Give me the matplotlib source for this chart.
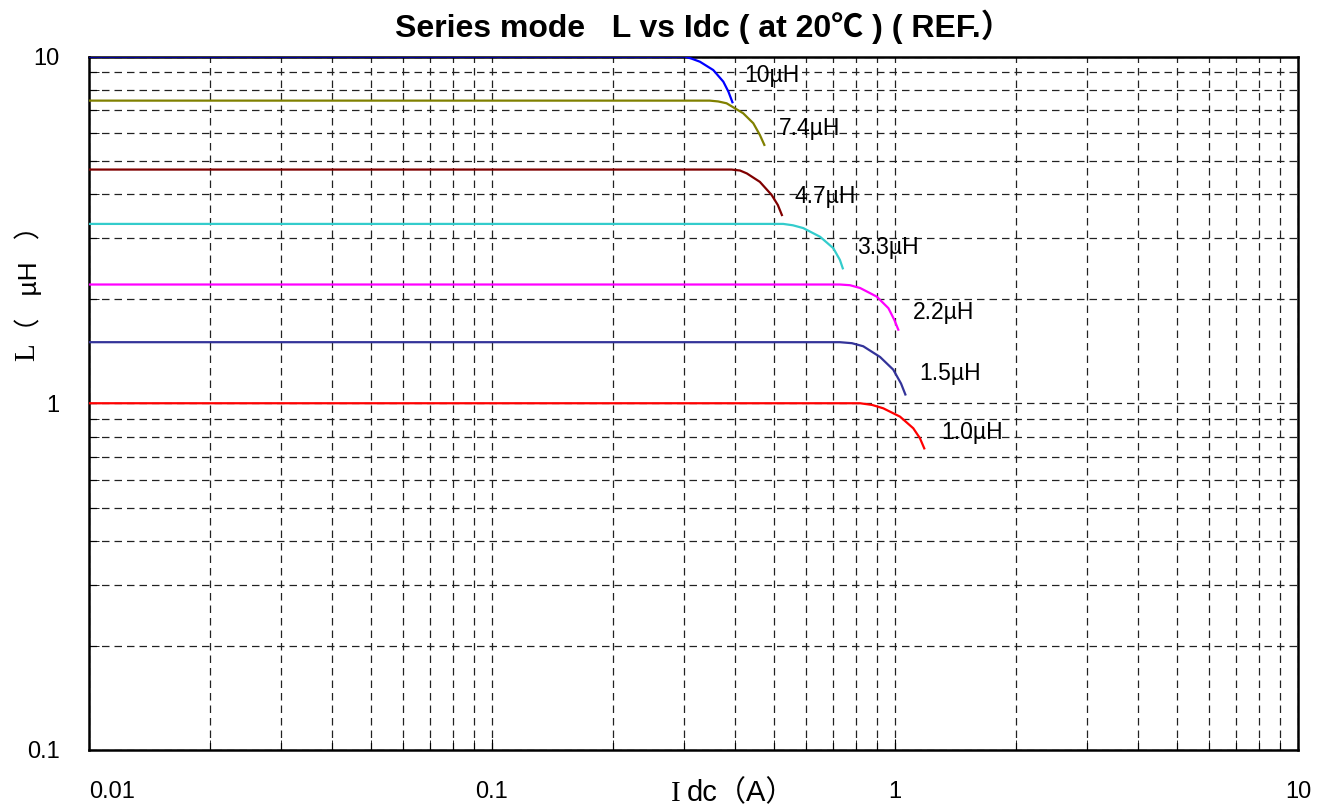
import matplotlib
matplotlib.use("Agg")
import matplotlib.pyplot as plt
from matplotlib.ticker import LogLocator, NullFormatter, FixedFormatter, FixedLocator

plt.rcParams['font.family'] = ['Liberation Sans', 'DejaVu Sans', 'Noto Sans CJK SC']
W, H = 1322, 809

# curves (Idc in A, L in uH)
idc_10 = [0.01, 0.301, 0.3135, 0.328, 0.354, 0.375, 0.386, 0.395]
l_10 = [10.0, 10.0, 9.85, 9.66, 9.14, 8.46, 7.92, 7.38]

idc_74 = [0.01, 0.347, 0.364, 0.382, 0.420, 0.445, 0.462, 0.474]
l_74 = [7.46, 7.46, 7.42, 7.33, 6.86, 6.42, 5.94, 5.56]

idc_47 = [0.01, 0.393, 0.4125, 0.429, 0.462, 0.494, 0.512, 0.524]
l_47 = [4.72, 4.72, 4.69, 4.60, 4.35, 3.99, 3.73, 3.49]

idc_33 = [0.01, 0.528, 0.558, 0.592, 0.652, 0.703, 0.730, 0.742]
l_33 = [3.29, 3.29, 3.26, 3.20, 3.02, 2.80, 2.59, 2.45]

idc_22 = [0.01, 0.730, 0.773, 0.819, 0.901, 0.963, 0.996, 1.019]
l_22 = [2.20, 2.20, 2.19, 2.15, 2.03, 1.88, 1.74, 1.63]

idc_15 = [0.01, 0.730, 0.782, 0.834, 0.918, 0.990, 1.035, 1.061]
l_15 = [1.50, 1.50, 1.49, 1.46, 1.36, 1.25, 1.14, 1.06]

idc_1 = [0.01, 0.819, 0.877, 0.935, 1.029, 1.110, 1.153, 1.182]
l_1 = [1.0, 1.0, 0.989, 0.967, 0.915, 0.847, 0.793, 0.741]

curve_names = ['10µH', '7.4µH', '4.7µH', '3.3µH', '2.2µH', '1.5µH', '1.0µH']
curve_x = [idc_10, idc_74, idc_47, idc_33, idc_22, idc_15, idc_1]
curve_y = [l_10, l_74, l_47, l_33, l_22, l_15, l_1]
colors = ['#0000ff', '#808000', '#800000', '#33cccc', '#ff00ff', '#333399', '#ff0000']

# where the value labels sit
label_x = [0.423, 0.514, 0.563, 0.803, 1.106, 1.15, 1.305]
label_y = [8.84, 6.21, 3.94, 2.82, 1.83, 1.22, 0.822]

xticks = [0.01, 0.1, 1, 10]
xtick_labels = ['0.01', '0.1', '1', '10']
yticks = [0.1, 1, 10]
ytick_labels = ['0.1', '1', '10']

fig = plt.figure(figsize=(W/100, H/100), dpi=100)
ax = fig.add_axes([89/W, 1-750/H, 1209/W, 693.5/H])

for xs, ys, c in zip(curve_x, curve_y, colors):
    ax.plot(xs, ys, color=c, lw=1.6, zorder=3, solid_joinstyle='round')

for name, x, y in zip(curve_names, label_x, label_y):
    ax.text(x, y, name, fontsize=16.5, ha='left', va='center')

ax.set_xscale('log')
ax.set_yscale('log')
ax.set_xlim(0.01, 10)
ax.set_ylim(0.1, 10)

ax.xaxis.set_major_locator(FixedLocator(xticks))
ax.xaxis.set_major_formatter(FixedFormatter(xtick_labels))
ax.yaxis.set_major_locator(FixedLocator(yticks))
ax.yaxis.set_major_formatter(FixedFormatter(ytick_labels))
ax.xaxis.set_minor_locator(LogLocator(base=10, subs=range(2, 10)))
ax.yaxis.set_minor_locator(LogLocator(base=10, subs=range(2, 10)))
ax.xaxis.set_minor_formatter(NullFormatter())
ax.yaxis.set_minor_formatter(NullFormatter())

#dashed grid everywhere
ax.grid(which='both', color='#222222', ls=(0, (6, 4)), lw=0.9)

ax.tick_params(which='both', direction='in', labelsize=17)
ax.tick_params(axis='x', which='major', length=8, pad=22)
ax.tick_params(axis='y', which='major', length=8, pad=21)
ax.tick_params(which='minor', length=7)
ax.get_xticklabels()[0].set_ha('left')

for s in ax.spines.values():
    s.set_linewidth(1.8)

# axis titles: serif letter + sans unit, like the original
fig.text(671/W, 1-801/H, 'I', fontsize=21, family='Liberation Serif',
         ha='left', va='baseline')
fig.text(687/W, 1-801/H, 'dc（A）', fontsize=21, ha='left', va='baseline')
fig.text(34/W, 1-361/H, 'L', fontsize=21, family='Liberation Serif',
         rotation=90, rotation_mode='anchor', ha='left', va='baseline')
fig.text(37/W, 1-278/H, '（   µH   ）', fontsize=19, rotation=90,
         rotation_mode='anchor', ha='center', va='baseline')

fig.text(704/W, 1-37/H, 'Series mode   L vs Idc ( at 20℃ ) ( REF.）',
         fontsize=23, fontweight='bold', ha='center', va='baseline',
         family=['Liberation Sans', 'Noto Sans CJK SC', 'DejaVu Sans'])

fig.savefig('out.png', dpi=100)
